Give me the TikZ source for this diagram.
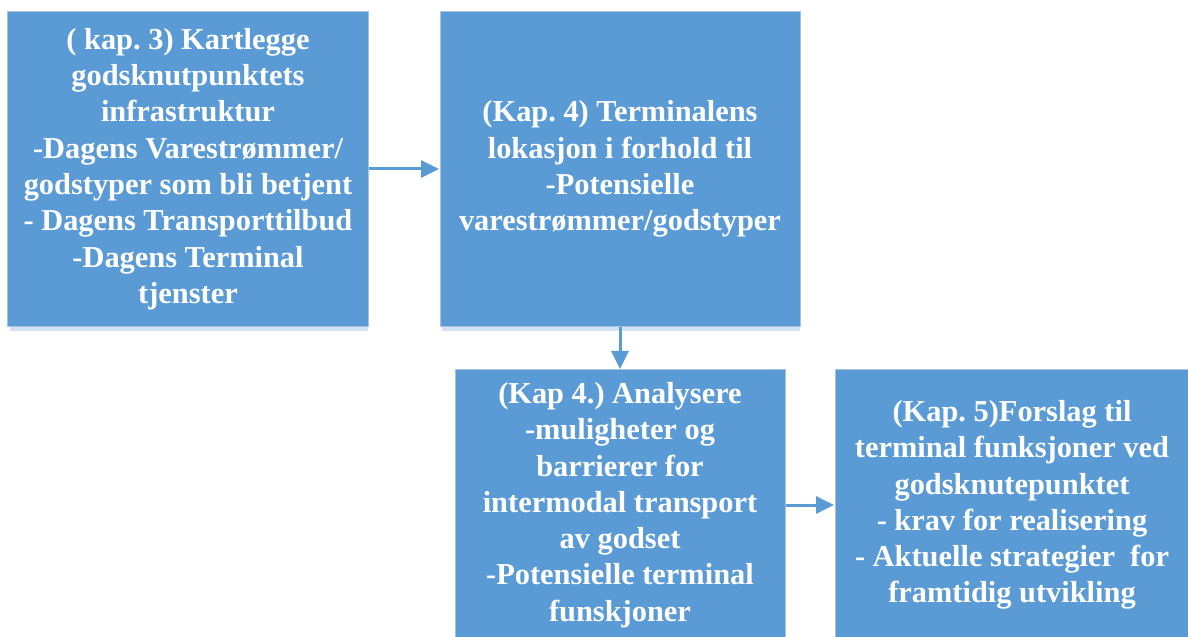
\documentclass[tikz,border=0pt]{standalone}
\usepackage{fontspec}
\setmainfont{Liberation Serif}
\usetikzlibrary{arrows.meta}
\definecolor{boxblue}{HTML}{5B9BD5}
\definecolor{boxedge}{HTML}{A7C3E2}
\definecolor{boxshade}{HTML}{D5E4F3}
\tikzset{
  stagebox/.style={rectangle, fill=boxblue, draw=boxedge, line width=1bp,
    align=center, text=white, inner sep=0pt,
    font=\fontsize{30.4bp}{36.3bp}\selectfont\bfseries\frenchspacing},
  flow/.style={draw=boxblue, line width=3bp,
    -{Triangle[length=18bp,width=17bp]}, shorten >=0.5bp},
}
\begin{document}
\begin{tikzpicture}[x=1bp,y=-1bp]
\useasboundingbox (0,0) rectangle (1188,637);
% light shading under the upper boxes
\fill[boxshade] (10,326) rectangle (368,331);
\fill[boxshade] (442,326) rectangle (800,331);

\node[stagebox, minimum width=360bp, minimum height=314bp] (kart) at (188,169)
  {( kap. 3) Kartlegge\\ godsknutpunktets\\ infrastruktur\\
   -Dagens Varestrømmer/\\ godstyper som bli betjent\\
   - Dagens Transporttilbud\\ -Dagens Terminal\\ tjenster};

\node[stagebox, minimum width=360bp, minimum height=314bp] (lok) at (620,169)
  {(Kap. 4) Terminalens\\ lokasjon i forhold til\\ -Potensielle\\
   varestrømmer/godstyper};

\node[stagebox, minimum width=330bp, minimum height=270bp] (anal) at (620,505)
  {(Kap 4.) Analysere\\ -muligheter og\\ barrierer for\\
   intermodal transport\\ av godset\\ -Potensielle terminal\\ funskjoner};

\node[stagebox, minimum width=354bp, minimum height=270bp] (forslag) at (1012,505)
  {(Kap. 5)Forslag til\\ terminal funksjoner ved\\ godsknutepunktet\\
   - krav for realisering\\ - Aktuelle strategier\ \ for\\ framtidig utvikling};

\draw[flow] (kart.east) -- (lok.west);
\draw[flow] (lok.south) -- (anal.north);
\draw[flow] (anal.east) -- (forslag.west);
\end{tikzpicture}
\end{document}
